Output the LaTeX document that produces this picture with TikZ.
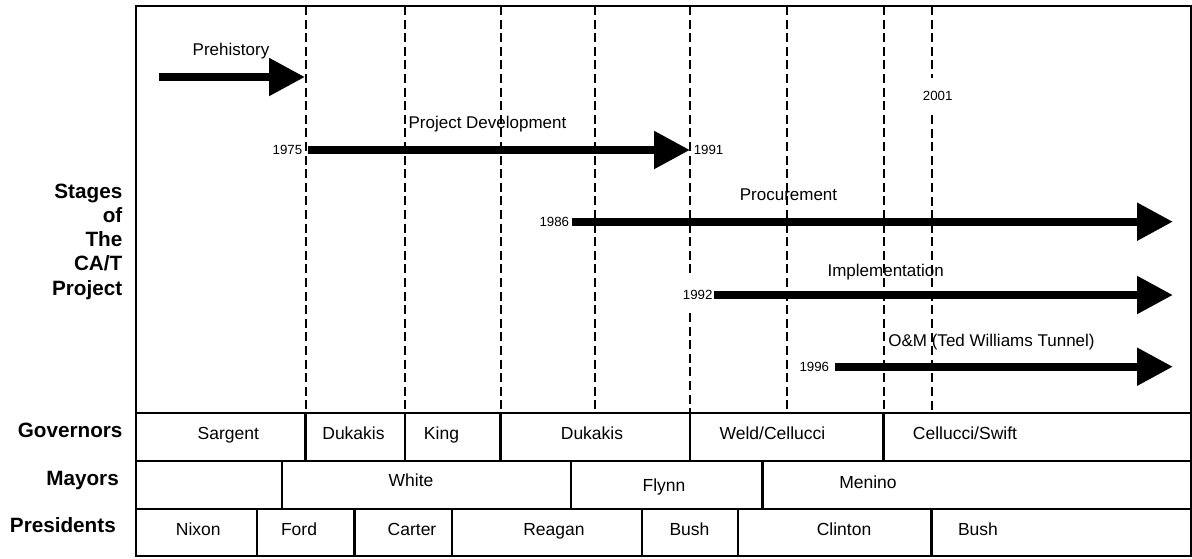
\documentclass[tikz,border=0pt]{standalone}
\usepackage{fontspec}
\setmainfont{Liberation Sans}
\usetikzlibrary{arrows.meta,positioning}

\begin{document}
\begin{tikzpicture}
        [x=1pt,y=-1pt,
        frame/.style={line width=2.2pt},
        eraline/.style={line width=2pt, dash pattern=on 9pt off 4.6pt},
        stage/.style={line width=8.3pt, -{Triangle[length=36pt,width=36pt]}},
        stagetext/.style={font=\fontsize{17}{20}\selectfont, inner sep=0pt, anchor=base},
        year/.style={font=\fontsize{13.3}{16}\selectfont, inner sep=0pt},
        cell/.style={font=\fontsize{17.5}{20}\selectfont, inner sep=0pt, anchor=base},
        rowlabel/.style={font=\bfseries\fontsize{20.7}{24}\selectfont, inner sep=0pt, anchor=base east},
        ]
        \useasboundingbox (0,0) rectangle (1192,558);

        % era lines
        \foreach \x in {305.5,405,500.5,595,787.3,883.5}
          \draw[eraline] (\x,6) -- (\x,413);
        \draw[eraline] (690,6) -- (690,277);
        \draw[eraline] (690,313) -- (690,413);
        \draw[eraline] (931.8,6) -- (931.8,78);
        \draw[eraline] (931.8,115) -- (931.8,413);

        % frame and rows
        \draw[frame] (136,6) rectangle (1191,556);
        \foreach \y in {413,461,509}
          \draw[frame] (136,\y) -- (1191,\y);
        \foreach \x in {305.5,405,500.5,690,883.5}
          \draw[frame] (\x,413) -- (\x,461);
        \foreach \x in {281.7,571,762.5}
          \draw[frame] (\x,461) -- (\x,509);
        \foreach \x in {256.7,354.5,452,642,738,931.5}
          \draw[frame] (\x,509) -- (\x,556);

        % stages
        \coordinate (pre-s) at (159,77);
        \coordinate (pre-e) at (305,77);
        \draw[stage] (pre-s) -- (pre-e);
        \node[stagetext] (pre) at (231,55) {Prehistory};

        \coordinate (dev-s) at (308,150);
        \coordinate (dev-e) at (690,150);
        \draw[stage] (dev-s) -- (dev-e);
        \node[stagetext] (dev) at (487.5,128.3) {Project Development};
        \node[year, left=5.6pt of dev-s] (y1975) {1975};
        \node[year, right=3.6pt of dev-e] (y1991) {1991};

        \coordinate (proc-s) at (571.7,221.7);
        \coordinate (proc-e) at (1173,221.7);
        \draw[stage] (proc-s) -- (proc-e);
        \node[stagetext] (proc) at (788.5,200) {Procurement};
        \node[year, left=2.4pt of proc-s] (y1986) {1986};

        \coordinate (impl-s) at (714.3,295);
        \coordinate (impl-e) at (1173,295);
        \draw[stage] (impl-s) -- (impl-e);
        \node[stagetext] (impl) at (885.7,276.7) {Implementation};
        \node[year, left=1.6pt of impl-s] (y1992) {1992};

        \coordinate (om-s) at (835,366.7);
        \coordinate (om-e) at (1173,366.7);
        \draw[stage] (om-s) -- (om-e);
        \node[stagetext] (om) at (991.5,346.7) {O\&M (Ted Williams Tunnel)};
        \node[year, left=5.7pt of om-s] (y1996) {1996};

        \node[year, anchor=base] (y2001) at (937.7,100) {2001};

        % row labels
        \foreach \w [count=\i] in {Stages,of,The,CA/T,Project}
          \node[rowlabel] (st\i) at (122.5,{198+24.3*(\i-1)}) {\w};
        \node[rowlabel] (gov) at (122.7,437) {Governors};
        \node[rowlabel] (may) at (119,485) {Mayors};
        \node[rowlabel] (pres) at (116,532.3) {Presidents};

        % cells
        \foreach \x/\n [count=\i] in {228.3/Sargent,353.5/Dukakis,441.5/King,592/Dukakis,772.5/{Weld/Cellucci},965/{Cellucci/Swift}}
          \node[cell] (gov\i) at (\x,439.5) {\n};
        \node[cell] (may1) at (411,486) {White};
        \node[cell] (may2) at (664,491.5) {Flynn};
        \node[cell] (may3) at (868,488) {Menino};
        \foreach \x/\n [count=\i] in {198.3/Nixon,299/Ford,412/Carter,554/Reagan,689.5/Bush,844/Clinton,978/Bush}
          \node[cell] (pres\i) at (\x,535.5) {\n};
\end{tikzpicture}
\end{document}
